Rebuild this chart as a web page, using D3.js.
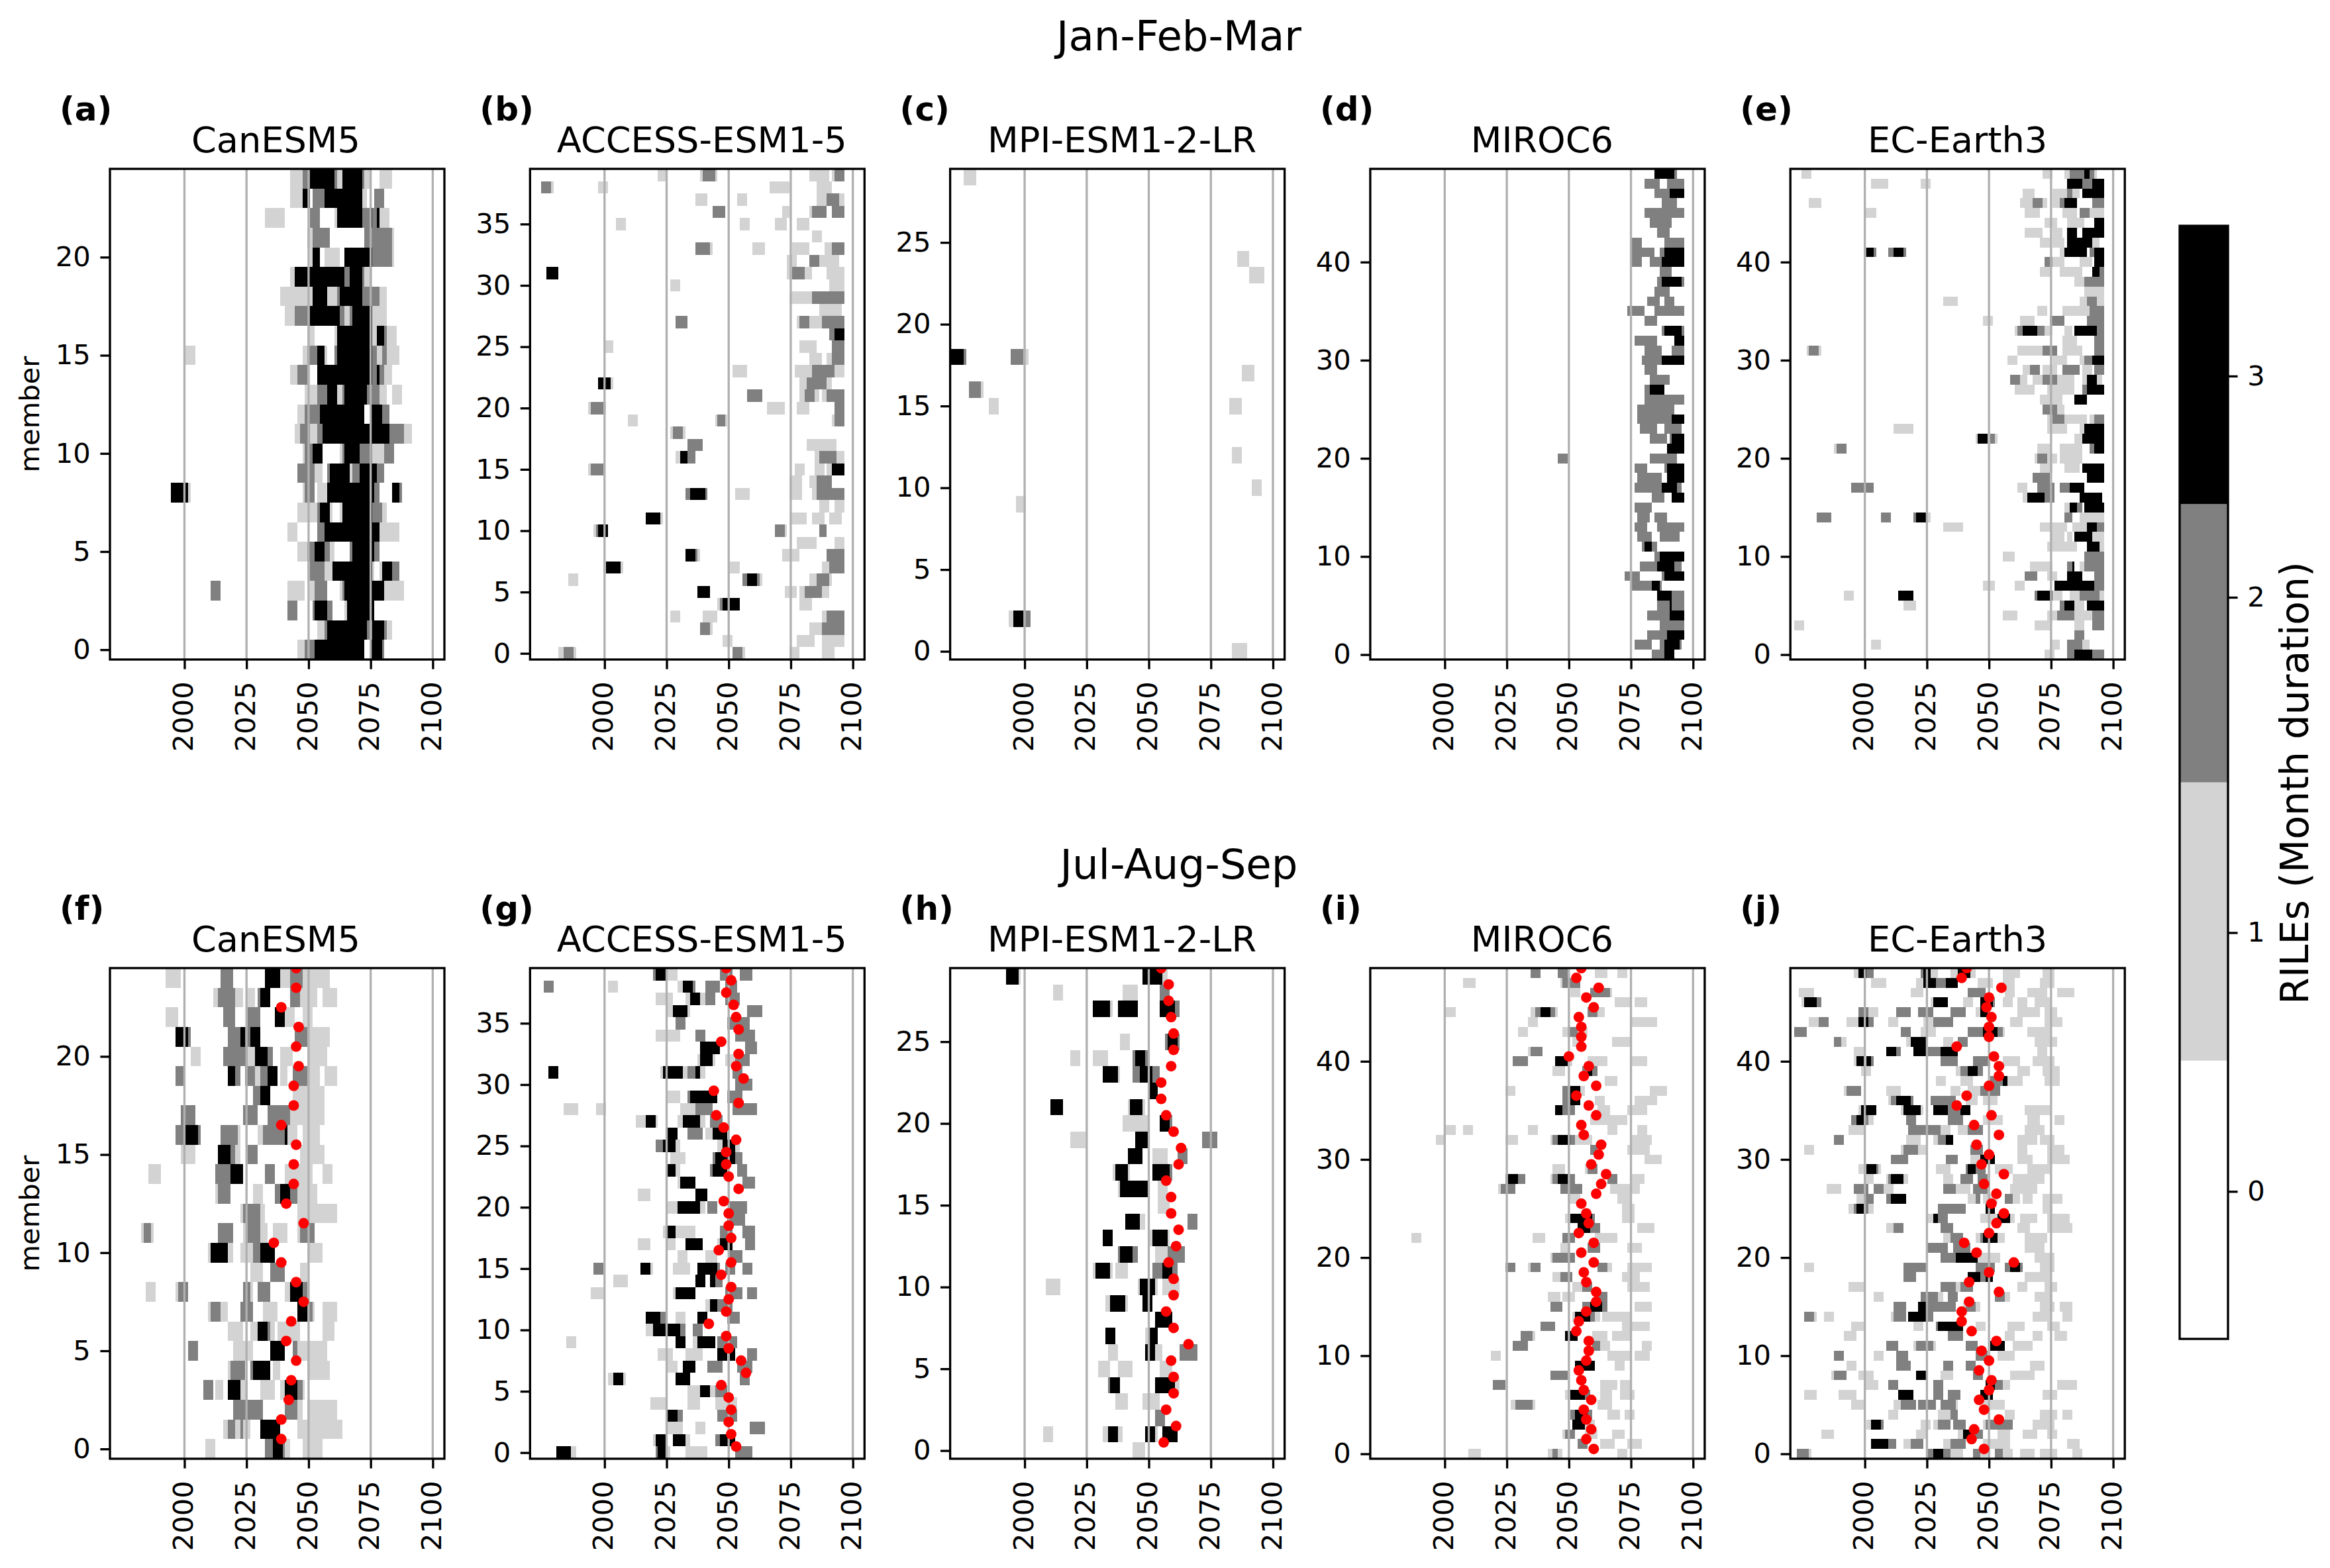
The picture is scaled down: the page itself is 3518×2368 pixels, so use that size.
<!DOCTYPE html>
<html>
<head>
<meta charset="utf-8">
<script src="https://cdn.jsdelivr.net/npm/d3@7"></script>
<style>
body { margin: 0; background: #fff; }
text { font-family: "DejaVu Sans", sans-serif; fill: #000; }
</style>
</head>
<body>
<div id="chart"></div>
<script>
// RILE cells per member. Rows go top to bottom (highest member first),
// each row is a flat list of runs: first year, last year, duration.
const runsA = [
[2043,2047,1,2048,2050,2,2051,2060,3,2061,2061,2,2062,2063,1,2064,2071,3,2072,2072,2,2073,2074,1,2079,2083,1],
[2043,2047,1,2048,2050,3,2052,2056,2,2057,2071,3,2072,2073,1,2077,2080,2],
[2033,2040,1,2051,2054,2,2061,2061,1,2062,2071,3,2072,2074,2,2075,2075,3,2076,2077,2,2078,2078,3,2079,2082,1],
[2050,2051,1,2052,2058,2,2073,2083,2,2084,2084,1],
[2051,2051,1,2052,2054,3,2057,2062,1,2065,2075,3,2076,2083,2,2084,2084,1],
[2043,2044,1,2045,2064,3,2065,2066,2,2067,2071,3,2072,2072,2,2073,2075,1],
[2039,2051,1,2052,2057,3,2058,2061,1,2062,2062,2,2063,2071,3,2072,2078,2,2079,2081,1],
[2041,2044,1,2045,2050,2,2051,2062,3,2063,2064,2,2065,2066,1,2067,2067,2,2068,2075,3,2076,2081,1],
[2050,2052,1,2061,2061,1,2062,2075,3,2076,2077,1,2078,2080,3,2081,2081,2,2082,2085,1],
[2000,2004,1,2048,2049,1,2050,2053,2,2054,2056,3,2057,2057,1,2061,2061,2,2062,2075,3,2076,2077,2,2078,2079,1,2080,2081,2,2082,2086,1],
[2043,2045,1,2046,2049,2,2050,2050,1,2054,2075,3,2076,2077,2,2078,2078,3,2079,2080,2,2081,2083,1],
[2049,2052,1,2053,2053,1,2054,2057,2,2058,2061,3,2062,2063,1,2064,2064,2,2065,2073,3,2074,2078,2,2079,2081,1,2084,2087,1],
[2046,2048,1,2049,2054,2,2055,2072,3,2075,2079,3,2080,2082,2],
[2045,2046,1,2047,2050,2,2051,2053,1,2054,2055,2,2056,2082,3,2083,2088,2,2089,2091,1],
[2048,2048,1,2049,2051,2,2052,2055,3,2063,2063,1,2064,2064,2,2065,2070,3,2071,2075,2,2076,2080,1,2081,2084,2],
[2046,2052,2,2053,2055,1,2058,2058,2,2059,2066,3,2067,2067,1,2068,2070,2,2071,2077,3,2078,2080,2],
[1995,2001,3,2002,2002,1,2048,2048,1,2049,2052,2,2054,2057,1,2058,2075,3,2076,2076,3,2077,2078,2,2084,2086,3,2087,2087,2],
[2046,2053,1,2054,2054,2,2055,2058,3,2059,2059,1,2063,2063,1,2064,2075,3,2076,2079,2,2080,2081,1],
[2042,2045,1,2054,2056,2,2057,2078,3,2079,2086,1],
[2046,2049,1,2050,2052,2,2053,2056,3,2057,2058,2,2059,2060,1,2067,2067,2,2068,2076,3,2077,2078,2],
[2050,2050,1,2051,2056,2,2057,2059,1,2060,2075,3,2076,2076,1,2079,2079,1,2080,2083,3,2084,2086,2],
[2011,2014,2,2042,2048,1,2051,2052,1,2053,2057,2,2063,2063,1,2064,2064,2,2065,2080,3,2081,2088,1],
[2042,2045,2,2052,2052,2,2053,2057,3,2058,2059,2,2065,2065,1,2066,2076,3],
[2054,2056,1,2057,2057,2,2058,2073,3,2074,2075,2,2076,2080,3,2081,2081,2,2082,2083,1],
[2046,2048,1,2049,2052,2,2053,2072,3,2075,2079,3,2080,2080,2]
];
const runsB = [
[2022,2025,1,2039,2039,1,2040,2044,2,2045,2045,1,2083,2090,1,2092,2092,1,2093,2096,2],
[1975,1978,2,1979,1979,1,1998,2001,1,2067,2074,1,2086,2091,1],
[2037,2041,1,2054,2057,1,2086,2089,1,2090,2094,2,2095,2096,1],
[2044,2048,2,2072,2074,1,2083,2083,1,2084,2089,2,2092,2096,2],
[2005,2008,1,2055,2058,1,2069,2073,1,2078,2082,1],
[2084,2087,1],
[2037,2042,2,2043,2043,1,2060,2064,1,2076,2082,1,2089,2091,1,2092,2096,2],
[2074,2077,1,2083,2086,2,2087,2094,1],
[1977,1981,3,2074,2075,1,2076,2080,2,2081,2083,1,2090,2096,1],
[2027,2030,1,2091,2096,1],
[2075,2083,1,2084,2096,2],
[2087,2095,1],
[2029,2033,2,2078,2078,1,2079,2082,2,2083,2087,1,2088,2096,2],
[2091,2092,2,2093,2096,3],
[2000,2003,1,2079,2085,1,2092,2096,2],
[2083,2087,1,2090,2091,1,2092,2096,2],
[2052,2057,1,2077,2083,1,2084,2092,2,2093,2096,1],
[1998,2002,3,2003,2003,1,2079,2081,1,2082,2089,2,2090,2091,1],
[2058,2063,2,2079,2080,1,2081,2084,2,2085,2086,1,2088,2089,1,2090,2096,2],
[1994,1994,1,1995,1999,2,2000,2000,1,2066,2072,1,2078,2082,1,2093,2096,2],
[2010,2013,1,2045,2045,1,2046,2048,2,2049,2049,1,2092,2092,1,2093,2096,2],
[2027,2027,1,2028,2031,2,2032,2032,1],
[2034,2039,2,2082,2093,1],
[2029,2030,1,2031,2031,2,2031,2033,3,2034,2036,2,2085,2086,1,2087,2093,2,2094,2096,1],
[1994,1994,1,1995,1999,2,2077,2080,1,2085,2088,1,2090,2091,1,2092,2096,3],
[2075,2079,1,2083,2085,1,2086,2091,2],
[2033,2034,2,2035,2040,3,2041,2041,2,2053,2058,1,2075,2079,1,2084,2085,1,2086,2096,2],
[2087,2090,1,2093,2096,1],
[2017,2022,3,2023,2023,1,2075,2081,1,2084,2088,1,2091,2095,1],
[1996,1996,1,1997,1997,2,1998,2001,3,2069,2072,2,2073,2073,1,2087,2089,2],
[2078,2085,1,2093,2096,1],
[2033,2036,3,2037,2037,2,2038,2038,1,2072,2078,1,2090,2096,2],
[2000,2000,1,2001,2006,3,2007,2007,1,2051,2054,1,2088,2090,1,2091,2096,2],
[1986,1989,1,2056,2057,2,2058,2061,3,2062,2062,2,2063,2063,1,2083,2085,1,2086,2090,2,2091,2091,1],
[2038,2042,3,2073,2077,1,2079,2080,1,2081,2087,2,2088,2090,1],
[2046,2046,1,2047,2047,2,2048,2054,3,2079,2083,1],
[2027,2030,1,2040,2045,1,2088,2089,1,2090,2096,2],
[2039,2042,2,2043,2043,1,2083,2087,1,2088,2096,2],
[2048,2051,1,2078,2084,1,2088,2096,1],
[1982,1983,1,1984,1987,2,1988,1988,1,2052,2055,2,2056,2056,1,2075,2078,1,2088,2092,1]
];
const runsC = [
[1976,1980,1],[],[],[],[],
[2086,2090,1],
[2091,2096,1],
[],[],[],[],
[1971,1975,3,1976,1976,2,1995,1999,2,2000,2001,1],
[2088,2092,1],
[1978,1982,2,1983,1983,1],
[1986,1989,1,2083,2087,1],
[],[],
[2084,2087,1],
[],
[2092,2095,1],
[1997,2000,1],
[],[],[],[],[],[],
[1994,1995,1,1996,1999,3,2000,2002,2],
[],
[2084,2089,1]
];
const runsD = [
[2085,2092,3,2093,2093,2],
[2081,2086,2,2090,2096,2],
[2085,2090,2,2091,2096,3],
[2088,2093,2],
[2081,2096,2],
[2083,2091,2],
[2086,2090,2],
[2075,2079,2,2089,2096,2],
[2075,2084,2,2087,2088,2,2089,2096,3],
[2075,2079,2,2083,2087,2,2088,2096,3],
[2087,2091,2],
[2086,2087,2,2088,2095,3,2096,2096,2],
[2085,2090,2],
[2082,2086,2,2089,2092,2],
[2074,2080,2,2085,2096,2],
[2081,2085,2],
[2088,2088,2,2089,2095,3,2096,2096,2],
[2077,2085,2,2093,2096,3],
[2081,2087,2,2092,2096,2],
[2080,2087,2,2088,2096,3],
[2081,2085,2],
[2083,2090,2],
[2081,2082,2,2083,2088,3],
[2081,2096,2],
[2078,2092,2],
[2078,2091,2,2092,2096,3],
[2079,2085,2,2089,2095,2],
[2083,2089,2,2091,2091,2,2092,2096,3],
[2090,2096,3],
[2046,2049,2,2083,2093,2],
[2077,2081,2,2089,2089,2,2090,2096,3],
[2078,2087,2,2090,2096,3],
[2077,2087,2,2088,2093,3,2094,2095,2],
[2084,2088,2,2092,2096,3],
[2077,2083,2],
[2078,2082,2,2085,2089,2],
[2077,2081,2,2086,2096,2],
[2078,2083,2,2087,2094,2],
[2080,2080,2,2081,2083,3,2084,2085,2],
[2085,2086,2,2087,2096,3],
[2079,2085,2,2086,2092,3,2093,2095,2],
[2073,2078,2,2088,2088,2,2089,2096,3],
[2075,2083,2,2084,2086,3,2087,2087,2],
[2086,2091,3,2092,2096,2],
[2086,2090,2,2091,2091,3,2092,2096,2],
[2082,2090,2,2091,2096,3],
[2087,2096,2],
[2082,2089,2,2090,2096,3],
[2077,2083,2,2087,2088,2,2089,2094,3,2095,2095,2],
[2084,2088,2,2089,2092,3]
];
const runsE = [
[1975,1978,1,2072,2075,1,2081,2082,1,2083,2088,2,2089,2090,3,2091,2092,2,2093,2093,1],
[2003,2009,1,2023,2026,1,2082,2087,3,2088,2091,2,2092,2096,3],
[2064,2068,1,2076,2081,1,2082,2083,2,2084,2086,1,2088,2096,3],
[1978,1982,1,2063,2067,1,2068,2071,2,2072,2073,1,2076,2078,1,2079,2080,2,2081,2085,3,2092,2096,2],
[2000,2004,1,2065,2070,1,2080,2085,1,2087,2090,2,2091,2096,1],
[2073,2077,1,2082,2088,1,2093,2096,3],
[2065,2071,1,2076,2079,1,2082,2085,3,2088,2096,3],
[2071,2074,1,2076,2080,1,2082,2091,3,2092,2094,1],
[2000,2000,2,2001,2003,3,2004,2004,2,2010,2011,2,2012,2015,3,2016,2016,2,2079,2080,1,2081,2089,3,2091,2092,2,2093,2096,3],
[2073,2075,2,2076,2080,1,2087,2091,1,2093,2096,3],
[2071,2074,1,2079,2087,1,2092,2094,3,2095,2096,2],
[2085,2088,1,2089,2096,2],
[2089,2096,1],
[2032,2037,1,2087,2089,1,2090,2093,2,2094,2096,1],
[2070,2073,1,2080,2090,1,2091,2096,2],
[2048,2051,1,2063,2068,1,2075,2080,2,2090,2096,2],
[2061,2061,1,2062,2063,2,2064,2069,3,2070,2072,2,2073,2075,1,2081,2083,1,2085,2093,3,2094,2096,2],
[2080,2085,1,2093,2096,2],
[1977,1977,1,1978,1981,2,1982,1982,1,2062,2071,1,2072,2077,2,2080,2083,1,2084,2087,1,2093,2096,2],
[2058,2061,1,2076,2081,1,2087,2088,1,2089,2091,2,2092,2096,3],
[2064,2066,1,2067,2070,2,2072,2075,1,2076,2077,1,2080,2086,2,2088,2091,1,2093,2096,2],
[2059,2062,2,2063,2065,1,2068,2071,1,2072,2077,2,2078,2084,1,2088,2089,1,2090,2093,3,2094,2095,1],
[2061,2068,1,2074,2084,1,2088,2089,2,2090,2096,3],
[2071,2079,1,2085,2089,3],
[2072,2077,2,2078,2080,1],
[2074,2075,1,2076,2080,2,2081,2089,1,2091,2092,1,2093,2096,2],
[2012,2019,1,2074,2081,1,2087,2088,1,2089,2096,3],
[2045,2045,1,2046,2049,3,2051,2052,2,2053,2053,1,2085,2087,1,2088,2096,3],
[1988,1988,1,1989,1992,2,2070,2074,1,2079,2087,1,2091,2092,2,2093,2096,3],
[2069,2069,1,2070,2073,2,2074,2077,1,2079,2087,1],
[2071,2075,1,2081,2086,1,2088,2096,3],
[2068,2074,2,2090,2096,3],
[1995,2003,2,2062,2065,1,2070,2076,2,2079,2082,2,2083,2088,3],
[2064,2065,1,2066,2072,3,2073,2076,2,2087,2095,3],
[2081,2082,1,2083,2085,3,2086,2087,2,2089,2096,3],
[1981,1986,2,2007,2010,2,2020,2020,2,2021,2024,3,2025,2026,1,2081,2083,2,2087,2096,1],
[2032,2039,1,2071,2081,1,2084,2089,1,2090,2093,3,2094,2096,2],
[2075,2080,1,2082,2083,1,2085,2091,3,2092,2096,1],
[2074,2085,1,2090,2094,3,2095,2096,1],
[2056,2060,1,2089,2096,2],
[2067,2075,1,2082,2083,2,2084,2084,3,2087,2088,1,2089,2096,2],
[2065,2069,2,2074,2077,1,2082,2087,3,2093,2096,2],
[2048,2052,1,2061,2064,1,2077,2092,3,2093,2096,2],
[1992,1995,1,2014,2019,3,2069,2069,2,2070,2075,3,2076,2079,1,2083,2086,1,2087,2094,2,2095,2096,1],
[2016,2020,1,2079,2080,2,2081,2084,3,2085,2088,1,2090,2096,3],
[2056,2061,1,2074,2077,1,2078,2084,2,2085,2088,1,2089,2091,1,2092,2096,2],
[1972,1975,1,2069,2074,1,2085,2088,1,2092,2096,2],
[2085,2088,2],
[2003,2006,1,2075,2078,1,2082,2087,2,2088,2090,1],
[2073,2076,1,2082,2084,2,2085,2091,3,2092,2096,2]
];
const runsF = [
[1993,1998,1,2015,2019,2,2033,2038,3,2039,2042,1,2043,2047,2,2048,2058,1],
[2012,2013,1,2014,2020,2,2021,2023,1,2026,2028,1,2030,2030,2,2031,2034,3,2043,2046,2,2047,2053,1,2056,2061,1],
[1993,1997,1,2016,2020,2,2026,2030,2,2037,2040,3,2041,2044,1,2048,2051,1],
[1997,2001,3,2002,2002,2,2018,2022,2,2023,2024,3,2025,2026,2,2027,2030,3,2045,2049,2,2050,2058,1],
[2003,2006,1,2016,2025,2,2026,2028,1,2029,2033,3,2034,2035,2,2039,2043,1,2050,2057,1],
[1997,2000,2,2018,2020,3,2021,2022,2,2025,2028,2,2029,2030,1,2031,2033,2,2034,2037,3,2039,2041,1,2044,2049,2,2050,2054,1,2057,2061,1],
[2028,2030,2,2031,2034,3,2044,2056,1],
[1999,2004,2,2024,2029,2,2034,2042,2,2043,2056,1],
[1997,2000,2,2001,2005,3,2006,2006,2,2015,2021,2,2022,2022,1,2030,2031,1,2032,2040,2,2041,2041,3,2042,2045,1,2048,2054,1],
[1999,2004,1,2014,2018,3,2019,2020,2,2021,2022,1,2026,2029,2,2047,2056,1],
[1986,1990,1,2013,2018,2,2019,2023,3,2033,2036,2,2041,2046,1,2047,2051,1,2056,2059,1],
[2013,2013,1,2014,2018,2,2028,2031,1,2037,2038,2,2039,2042,3,2043,2045,2,2046,2053,1],
[2023,2023,1,2024,2030,2,2031,2032,1,2046,2061,1],
[1983,1983,1,1984,1986,2,1987,1987,1,2014,2019,2,2024,2025,1,2026,2030,2,2031,2033,1,2036,2041,1,2046,2046,1,2047,2052,2],
[2010,2010,1,2011,2017,3,2018,2019,1,2023,2027,1,2028,2030,2,2031,2036,3,2050,2055,1],
[2027,2031,1,2035,2040,2,2047,2049,1],
[1985,1988,1,1997,1997,1,1998,2001,2,2024,2026,2,2027,2027,1,2030,2034,2,2041,2042,1,2043,2047,3,2048,2049,2],
[2010,2010,1,2011,2014,2,2015,2017,1,2023,2027,2,2032,2037,1,2046,2049,3,2050,2051,2,2052,2052,1,2056,2061,1],
[2018,2023,1,2027,2029,1,2030,2033,3,2034,2034,2,2035,2036,1,2038,2046,1,2056,2060,1],
[2002,2005,2,2020,2027,1,2035,2040,3,2044,2045,2,2046,2057,1],
[2018,2018,1,2019,2024,2,2027,2027,2,2028,2034,3,2036,2038,1,2050,2058,1],
[2008,2011,2,2013,2015,1,2018,2022,3,2023,2025,1,2031,2036,1,2039,2040,1,2041,2045,3,2046,2047,2,2048,2048,1],
[2020,2031,2,2041,2045,2,2046,2047,1,2050,2061,1],
[2016,2017,1,2018,2020,2,2021,2022,1,2023,2023,2,2024,2026,1,2031,2038,3,2046,2054,1,2055,2063,1],
[2009,2012,1,2033,2035,2,2036,2039,3,2040,2040,2,2041,2042,1,2048,2055,1]
];
const runsG = [
[2020,2020,2,2021,2025,3,2026,2029,1,2047,2051,2,2055,2059,2],
[1976,1979,2,2002,2005,1,2030,2031,1,2032,2035,3,2036,2036,2,2041,2046,2,2049,2053,2],
[2021,2027,1,2033,2034,1,2035,2038,3,2039,2040,1,2041,2041,3,2041,2044,2,2049,2054,2],
[2026,2027,1,2028,2033,3,2034,2034,1,2058,2063,2],
[2029,2032,2,2050,2058,2],
[2021,2030,1,2037,2040,2,2053,2060,2],
[2039,2046,3,2057,2061,2],
[2038,2038,1,2039,2043,3,2044,2044,1,2049,2052,1,2053,2058,2],
[1978,1981,3,2023,2023,1,2024,2031,3,2032,2033,1,2034,2036,2,2037,2038,3,2039,2040,1,2052,2055,2],
[2053,2059,2],
[2026,2030,1,2034,2034,2,2035,2045,3,2050,2055,2],
[1984,1989,1,1997,2000,1,2031,2036,1,2037,2043,2,2052,2061,2],
[2013,2016,1,2017,2020,3,2021,2021,1,2030,2031,1,2032,2038,3,2039,2040,1,2043,2047,2],
[2025,2025,1,2026,2029,3,2034,2039,2,2041,2043,1,2044,2049,3],
[2021,2023,2,2024,2028,3,2029,2030,1,2046,2047,1,2048,2052,3,2053,2054,1],
[2027,2032,1,2044,2044,2,2045,2052,3,2053,2055,2],
[2025,2025,2,2026,2028,3,2029,2030,1,2043,2043,2,2044,2049,3,2054,2057,2],
[2030,2030,1,2031,2036,3,2056,2060,2],
[2014,2018,1,2037,2041,3],
[2026,2029,1,2030,2038,3,2039,2040,1,2042,2045,2,2051,2057,2],
[2050,2056,2],
[2024,2025,1,2026,2028,3,2029,2036,1,2047,2051,2,2056,2060,2],
[2014,2018,1,2025,2028,1,2033,2039,3,2046,2046,1,2047,2051,3,2057,2060,2],
[2030,2033,1,2041,2045,1,2051,2055,2],
[1996,1999,2,2015,2018,3,2019,2019,1,2028,2034,1,2038,2045,3,2046,2046,2,2049,2052,2,2056,2059,2],
[2004,2009,1,2037,2040,3,2043,2044,3,2045,2047,2],
[1995,1999,1,2028,2028,1,2029,2036,3,2049,2055,2,2058,2061,2],
[2041,2042,1,2043,2045,3,2046,2051,2],
[2017,2022,3,2023,2024,2,2029,2032,1,2038,2041,3,2050,2054,2],
[2017,2019,1,2020,2024,3,2026,2030,3,2031,2032,2,2036,2039,2],
[1985,1988,1,2029,2032,3,2036,2037,1,2038,2044,3,2046,2053,2],
[2022,2027,1,2033,2039,1,2046,2049,3,2051,2052,3,2058,2061,2],
[2026,2029,1,2032,2036,3,2042,2047,2,2054,2059,2],
[2002,2003,1,2004,2007,3,2008,2008,1,2029,2034,3,2055,2058,2],
[2034,2038,1,2039,2042,3,2043,2044,1,2045,2049,2],
[2019,2025,1,2034,2038,1,2045,2053,1],
[2025,2029,3,2030,2031,2,2046,2053,2],
[2026,2031,1,2037,2040,1,2059,2064,2],
[2020,2020,1,2021,2024,3,2028,2032,3,2033,2034,1,2045,2046,2,2047,2052,3],
[1981,1986,3,1987,1988,1,2021,2021,2,2022,2024,3,2025,2026,1,2033,2041,1,2053,2059,2]
];
const runsH = [
[1993,1997,3,1998,1998,1,2048,2055,3,2056,2057,1],
[2012,2015,1,2040,2045,1,2055,2058,2],
[2028,2034,3,2035,2035,1,2038,2045,3,2055,2060,3,2061,2062,2],
[],
[2039,2042,1,2057,2057,2,2058,2061,3,2062,2062,2],
[2019,2022,1,2028,2033,1,2044,2044,2,2045,2048,3,2049,2050,2],
[2032,2037,3,2038,2038,1,2044,2046,2,2047,2051,3,2052,2054,2],
[2051,2053,3],
[2011,2015,3,2042,2042,1,2043,2047,3,2048,2048,1],
[2040,2049,1,2055,2058,3,2059,2059,2],
[2019,2024,1,2045,2049,3,2072,2077,2],
[2042,2047,3,2052,2057,1,2062,2065,2],
[2036,2036,1,2037,2041,3,2042,2042,1,2052,2058,3,2059,2059,2],
[2038,2038,1,2039,2049,3,2054,2057,1],
[2054,2058,1],
[2041,2046,3,2047,2048,1,2066,2069,2],
[2032,2035,3,2051,2051,1,2052,2057,3,2058,2058,1],
[2038,2038,2,2039,2043,3,2044,2045,2,2053,2057,1,2058,2064,2],
[2028,2028,1,2029,2034,3,2035,2035,1,2037,2041,1,2052,2055,2,2056,2059,3,2060,2061,2],
[2009,2014,1,2046,2046,1,2047,2052,3,2053,2053,1,2056,2062,1],
[2033,2034,1,2035,2040,3,2041,2041,1,2048,2051,3],
[2053,2059,3],
[2033,2036,3,2049,2050,1,2051,2053,3],
[2034,2037,1,2049,2052,3,2053,2055,1,2063,2069,2],
[2030,2034,1,2038,2043,1,2055,2059,1],
[2034,2034,2,2035,2038,3,2053,2060,3,2061,2062,1],
[2037,2041,1,2048,2054,1],
[2053,2056,2],
[2008,2011,1,2032,2033,1,2034,2037,3,2038,2039,1,2049,2052,3,2053,2053,1,2056,2061,3],
[2044,2048,1]
];
const runsI = [
[2035,2038,2,2046,2049,2,2061,2065,1,2070,2073,1],
[2008,2012,1,2047,2047,1,2048,2054,2],
[2051,2054,1,2059,2066,2,2067,2067,1],
[2069,2074,1,2077,2081,1],
[2001,2004,1,2035,2036,1,2037,2038,2,2039,2042,3,2043,2044,2,2045,2045,1,2058,2061,2,2062,2064,1],
[2034,2037,1,2075,2085,1],
[2030,2033,1,2048,2049,1,2050,2053,2,2054,2057,1],
[2052,2055,1,2068,2074,1],
[2034,2034,1,2035,2039,2],
[2028,2033,2,2045,2049,3,2050,2051,1,2058,2065,1,2076,2081,1],
[2044,2048,1,2056,2057,2,2058,2059,3,2060,2061,2],
[2065,2069,1],
[2025,2028,1,2048,2050,2,2051,2054,3,2055,2056,1,2083,2089,1],
[2048,2050,2,2051,2054,3,2061,2064,1,2077,2085,1],
[2045,2047,3,2048,2052,2,2062,2066,1,2074,2081,1],
[2059,2064,1,2065,2073,1],
[2001,2004,1,2008,2011,1,2034,2037,1,2066,2069,1,2078,2081,1],
[1997,2000,1,2025,2029,1,2043,2043,1,2044,2045,2,2046,2050,3,2051,2052,2,2053,2059,1,2075,2083,1],
[2059,2061,2,2074,2082,1],
[2081,2087,1],
[2044,2048,1,2057,2057,1,2058,2061,2],
[2025,2025,2,2026,2029,3,2030,2032,2,2043,2043,1,2044,2045,2,2046,2049,3,2050,2052,2,2066,2069,2,2075,2080,1],
[2022,2022,1,2023,2028,2,2047,2055,2,2067,2078,1],
[2050,2054,1,2070,2074,1],
[2072,2076,1],
[2049,2050,1,2051,2059,3,2060,2060,2,2072,2076,1],
[2054,2058,3,2059,2062,2,2078,2084,1],
[1987,1990,1,2036,2040,1,2048,2052,2,2061,2069,1],
[2047,2050,1,2058,2062,2,2074,2079,1],
[2043,2043,1,2044,2052,2],
[2025,2028,2,2034,2034,1,2035,2038,2,2062,2065,2,2066,2067,1,2074,2083,1],
[2044,2046,1,2047,2051,2,2072,2078,1],
[2052,2055,1,2056,2059,2,2074,2082,1],
[2042,2046,1,2048,2052,1,2062,2065,2],
[2043,2047,2,2056,2058,2,2059,2063,3,2064,2065,2,2077,2083,1],
[2052,2052,1,2053,2058,3,2059,2060,2,2061,2062,1,2064,2074,1],
[2039,2044,2,2072,2082,1],
[2031,2035,2,2036,2036,1,2049,2053,3,2060,2065,1,2068,2074,1],
[2028,2033,2,2060,2062,2,2063,2066,1,2080,2083,1],
[2019,2022,1,2066,2074,1,2077,2082,1],
[2053,2060,3,2069,2072,1],
[2043,2049,2],
[2020,2024,2,2063,2069,1,2071,2074,1],
[2049,2050,1,2051,2056,3,2057,2058,2,2063,2067,1,2071,2076,1],
[2027,2028,1,2029,2035,2,2036,2036,1,2062,2067,1],
[2051,2052,2,2053,2057,3,2058,2059,2,2066,2070,1,2073,2076,1],
[2052,2056,3,2057,2060,1],
[2048,2048,1,2049,2052,2,2057,2061,1,2068,2072,1],
[2054,2057,2,2063,2068,1,2074,2079,1],
[2010,2014,1,2042,2043,1,2044,2045,2,2046,2047,1,2070,2073,1]
];
const runsJ = [
[1996,1997,1,1998,2000,3,2001,2003,2,2023,2023,2,2024,2026,3,2027,2029,1,2035,2037,1,2038,2042,3,2043,2044,1,2056,2062,1,2072,2076,1],
[2003,2008,1,2021,2023,1,2024,2028,3,2029,2032,2,2033,2037,3,2046,2051,1,2056,2060,1,2071,2076,1],
[1974,1979,1,2019,2023,1,2042,2048,2,2057,2060,1,2066,2073,1,2078,2084,1],
[1975,1975,1,1976,1980,3,1981,1982,2,2027,2027,1,2028,2033,3,2040,2043,1,2047,2051,3,2052,2052,2,2056,2059,1,2062,2065,1,2069,2074,1],
[1998,2001,2,2002,2005,1,2013,2018,2,2022,2027,2,2035,2040,2,2045,2046,1,2047,2050,3,2062,2070,1,2073,2077,1],
[1978,1981,1,1982,1985,2,1993,1997,1,1998,2001,3,2002,2003,2,2010,2013,1,2024,2027,1,2028,2035,2,2059,2063,1,2073,2079,1],
[1972,1976,2,2015,2018,2,2023,2028,1,2042,2047,2,2048,2053,3,2054,2055,2,2056,2056,1,2066,2074,1],
[1988,1990,2,1991,1992,1,2017,2018,1,2019,2024,3,2032,2035,1,2038,2041,2,2069,2077,1],
[1996,1999,1,2009,2012,3,2013,2014,2,2020,2024,3,2025,2030,2,2031,2037,3,2070,2073,1],
[1996,1996,1,1997,1999,3,2001,2002,3,2003,2003,2,2031,2037,2,2044,2050,2,2056,2062,1,2068,2076,1],
[1999,2002,1,2037,2038,1,2039,2041,2,2042,2045,3,2046,2047,2,2062,2066,1,2072,2078,1],
[2029,2032,1,2039,2043,1,2051,2055,2,2056,2057,3,2058,2063,1,2073,2078,1],
[1992,1992,1,1993,1998,2,2009,2014,1,2035,2038,1,2042,2046,1,2047,2054,2],
[2010,2010,1,2011,2012,2,2013,2018,3,2019,2019,2,2027,2036,2,2041,2045,1,2048,2053,1],
[1998,1998,1,1999,2004,3,2015,2015,1,2016,2022,3,2023,2023,1,2028,2033,3,2034,2038,2,2039,2042,3,2065,2074,1],
[1995,1996,2,1997,1999,3,2000,2001,2,2002,2003,1,2017,2020,2,2034,2039,2,2048,2055,1,2066,2070,1,2077,2080,1],
[1994,1999,1,2018,2030,2,2031,2034,1,2038,2041,1,2042,2047,2,2065,2072,1],
[1988,1991,2,2017,2022,1,2028,2029,1,2030,2032,2,2033,2035,3,2062,2069,1,2071,2076,1],
[1976,1979,1,2015,2015,1,2016,2021,2,2022,2024,1,2043,2047,2,2062,2065,1,2074,2080,1],
[2011,2017,2,2033,2037,2,2043,2046,1,2047,2052,3,2062,2067,1,2074,2082,1],
[1998,2000,1,2001,2004,3,2005,2005,2,2006,2006,1,2029,2034,1,2041,2041,2,2042,2044,3,2045,2048,2,2053,2059,1,2066,2074,1],
[2000,2003,1,2009,2009,1,2010,2010,2,2011,2015,3,2016,2017,1,2032,2035,1,2039,2043,2,2046,2049,2,2060,2072,1],
[1985,1990,1,1996,2001,2,2004,2007,2,2008,2011,1,2032,2036,2,2037,2042,1,2044,2049,2,2059,2069,1],
[1997,1999,1,2000,2003,2,2009,2010,2,2011,2016,3,2042,2044,1,2045,2046,2,2048,2053,1,2057,2059,2,2060,2062,1,2064,2067,1,2072,2079,1],
[1994,1995,1,1996,1996,2,1997,1999,3,2000,2001,2,2002,2003,1,2030,2040,2,2049,2052,3,2072,2075,1],
[2025,2027,1,2028,2029,3,2030,2033,2,2047,2053,1,2054,2058,3,2059,2060,1,2063,2069,1,2074,2082,1],
[2009,2011,1,2012,2015,2,2031,2035,2,2062,2066,1,2074,2083,1],
[2032,2034,1,2035,2039,2,2045,2046,1,2047,2047,2,2048,2053,3,2054,2056,1,2065,2073,1],
[2025,2033,2,2036,2042,2,2065,2072,1],
[2031,2036,2,2037,2045,3,2046,2054,1,2069,2076,1],
[1976,1979,1,2016,2024,2,2045,2052,2,2057,2058,2,2059,2062,3,2063,2063,2,2071,2076,1],
[2016,2020,2,2042,2046,3,2047,2048,2,2049,2051,3,2065,2074,1],
[1994,1999,1,2031,2036,2,2037,2038,1,2039,2043,2,2062,2065,1,2073,2077,1],
[2004,2007,1,2023,2029,2,2030,2031,1,2034,2037,2,2053,2056,2,2057,2058,1,2069,2075,1],
[2012,2016,2,2022,2024,3,2025,2036,2,2040,2040,1,2041,2044,2,2045,2046,1,2071,2076,1,2079,2083,1],
[1976,1979,2,1980,1980,1,1984,1987,1,2011,2011,1,2012,2015,2,2016,2016,2,2018,2024,3,2025,2027,2,2068,2074,1,2080,2083,1],
[1995,1999,1,2020,2023,1,2029,2029,2,2030,2039,3,2045,2048,1,2058,2064,1,2074,2078,1],
[1992,1996,1,2034,2039,2,2057,2060,1,2068,2071,1,2077,2081,1],
[2009,2013,2,2020,2020,1,2021,2027,2,2028,2028,1,2041,2045,2,2051,2056,3,2060,2067,1],
[1988,1991,2,2004,2007,1,2013,2017,2,2045,2049,2,2054,2060,1],
[1993,1996,1,2013,2018,2,2032,2035,2,2041,2044,2,2067,2072,1],
[1987,1987,1,1988,1992,2,1998,2003,1,2021,2024,3,2031,2035,1,2044,2047,2,2059,2068,1],
[2000,2005,1,2010,2013,2,2028,2031,2,2049,2052,3,2053,2055,2,2056,2058,1,2078,2085,1],
[1976,1980,1,1990,1996,1,2014,2019,3,2028,2031,2,2034,2038,2,2047,2051,3,2072,2077,1],
[1995,1999,1,2012,2014,1,2015,2020,2,2022,2028,2,2031,2036,2,2037,2037,1,2048,2056,1],
[2010,2013,1,2030,2034,1,2035,2037,2,2057,2060,1,2071,2077,1,2080,2083,1],
[2001,2002,1,2003,2006,3,2007,2007,2,2023,2026,1,2028,2029,1,2030,2034,2,2036,2040,2,2048,2048,1,2049,2059,2,2068,2076,1],
[1983,1987,1,2021,2024,1,2038,2039,1,2040,2043,3,2044,2047,2,2054,2058,1,2064,2069,1,2074,2077,1],
[2003,2009,3,2010,2012,2,2016,2018,1,2019,2023,2,2032,2034,1,2035,2040,2,2048,2058,1,2082,2086,1],
[1973,1977,2,1978,1978,1,2025,2027,2,2028,2031,3,2032,2034,2,2035,2039,1,2044,2046,2,2047,2050,1,2053,2055,2,2056,2059,1,2063,2068,1,2071,2077,1,2084,2087,1]
];

// Event-year markers, one per member, lowest member first (drawn at member + 0.5)
const dotsF = [2039,2039,2042,2043,2045,2041,2043,2048,2045,2039,2036,2048,2041,2044,2044,2045,2039,2044,2044,2046,2045,2046,2039,2045,2045];
const dotsG = [2053,2051,2050,2051,2050,2047,2057,2055,2050,2049,2042,2049,2050,2051,2047,2051,2046,2051,2050,2050,2048,2054,2050,2049,2049,2053,2048,2045,2054,2044,2056,2053,2054,2047,2054,2053,2052,2049,2051,2049];
const dotsH = [2056,2061,2057,2060,2060,2059,2066,2060,2057,2060,2060,2058,2061,2062,2059,2059,2057,2062,2063,2060,2057,2055,2055,2059,2060,2060,2059,2058,2058,2055];
const dotsI = [2060,2057,2059,2057,2056,2059,2056,2055,2054,2057,2058,2058,2053,2054,2057,2061,2061,2057,2056,2060,2055,2060,2054,2058,2057,2055,2061,2063,2065,2059,2062,2063,2056,2055,2061,2058,2053,2061,2056,2058,2050,2055,2055,2055,2054,2060,2057,2062,2053,2055];
const dotsJ = [2048,2043,2044,2054,2048,2046,2050,2051,2046,2050,2047,2053,2043,2039,2039,2042,2054,2042,2050,2060,2045,2040,2050,2053,2056,2051,2053,2048,2056,2047,2050,2045,2054,2044,2051,2037,2041,2050,2054,2054,2052,2037,2050,2050,2051,2049,2050,2055,2039,2041];

const panelLetters = ['(a)', '(b)', '(c)', '(d)', '(e)', '(f)', '(g)', '(h)', '(i)', '(j)'];
const modelNames = ['CanESM5', 'ACCESS-ESM1-5', 'MPI-ESM1-2-LR', 'MIROC6', 'EC-Earth3'];
const memberCounts = [25, 40, 30, 50, 50];
const memberTicks = [
    [0, 5, 10, 15, 20],
    [0, 5, 10, 15, 20, 25, 30, 35],
    [0, 5, 10, 15, 20, 25],
    [0, 10, 20, 30, 40],
    [0, 10, 20, 30, 40]
];
const yearTicks = [2000, 2025, 2050, 2075, 2100];
const yearRange = [1970, 2104.7];
const seasonTitles = ['Jan-Feb-Mar', 'Jul-Aug-Sep'];
const durationLevels = [0, 1, 2, 3];
const durationColors = ['#ffffff', '#d3d3d3', '#808080', '#000000'];
// where the colorbar ticks sit on the bar, in duration units
const colorbarTicks = [0.03, 0.96, 2.165, 2.96];

const runs = [runsA, runsB, runsC, runsD, runsE, runsF, runsG, runsH, runsI, runsJ];
const dots = [null, null, null, null, null, dotsF, dotsG, dotsH, dotsI, dotsJ];

const width = 3518, height = 2368;
const pt = 300 / 72;
const lineW = 0.8 * pt;
const tickLen = 3.5 * pt;
const panelW = 505, panelStep = 634.3, firstLeft = 166;
const rowTops = [255, 1462], panelH = 741;
const titleShift = [-2, 7, 7, 7, 0];

const colorScale = d3.scaleOrdinal().domain(durationLevels).range(durationColors);

let svg = d3.select('#chart').append('svg')
    .attr('width', width)
    .attr('height', height)
    .attr('viewBox', '0 0 ' + width + ' ' + height)
    .style('display', 'block');

svg.append('rect').attr('width', width).attr('height', height).attr('fill', '#fff');

function style_axis(axis) {
    axis.selectAll('path, line').attr('stroke', '#000').attr('stroke-width', lineW);
    axis.selectAll('text').attr('font-size', 10 * pt).attr('font-family', '"DejaVu Sans"').attr('fill', '#000');
}

// flat rows -> list of cells for the data join
function make_cells(rows) {
    let cells = [];
    rows.forEach(function (row, i) {
        let member = rows.length - 1 - i;
        for (let k = 0; k < row.length; k += 3) {
            cells.push({member: member, first: row[k], last: row[k + 1], value: row[k + 2]});
        }
    });
    return cells;
}

function make_panel(index) {
    let col = index % 5, row = Math.floor(index / 5);
    let left = firstLeft + col * panelStep, top = rowTops[row];
    let members = memberCounts[col];

    let x = d3.scaleLinear().domain(yearRange).range([0, panelW]);
    let y = d3.scaleLinear().domain([-0.5, members - 0.5]).range([panelH, 0]);

    let g = svg.append('g').attr('transform', 'translate(' + left + ',' + top + ')');

    g.append('clipPath').attr('id', 'clip-' + index)
        .append('rect').attr('width', panelW).attr('height', panelH);

    let body = g.append('g').attr('clip-path', 'url(#clip-' + index + ')');

    body.selectAll('rect.cell').data(make_cells(runs[index]))
        .enter().append('rect')
        .attr('class', 'cell')
        .attr('x', function (d) { return x(d.first - 0.5); })
        .attr('width', function (d) { return x(d.last + 0.5) - x(d.first - 0.5); })
        .attr('y', function (d) { return y(d.member + 0.5); })
        .attr('height', function (d) { return y(d.member - 0.5) - y(d.member + 0.5); })
        .attr('fill', function (d) { return colorScale(d.value); })
        .attr('shape-rendering', 'crispEdges');

    body.selectAll('line.grid').data(yearTicks)
        .enter().append('line')
        .attr('class', 'grid')
        .attr('x1', x).attr('x2', x)
        .attr('y1', 0).attr('y2', panelH)
        .attr('stroke', '#b0b0b0')
        .attr('stroke-width', lineW);

    if (dots[index]) {
        body.selectAll('circle').data(dots[index])
            .enter().append('circle')
            .attr('cx', function (d) { return x(d); })
            .attr('cy', function (d, i) { return y(i + 0.5); })
            .attr('r', 8)
            .attr('fill', '#ff0000');
    }

    let xAxis = d3.axisBottom(x).tickValues(yearTicks).tickFormat(d3.format('d'))
        .tickSizeInner(tickLen).tickSizeOuter(0).tickPadding(tickLen);
    let yAxis = d3.axisLeft(y).tickValues(memberTicks[col]).tickFormat(d3.format('d'))
        .tickSizeInner(tickLen).tickSizeOuter(0).tickPadding(tickLen);

    let xg = g.append('g').attr('transform', 'translate(0,' + panelH + ')').call(xAxis);
    xg.select('.domain').remove();
    style_axis(xg);
    xg.selectAll('text')
        .attr('transform', 'rotate(-90)')
        .attr('x', -(tickLen * 2 + 4))
        .attr('y', 0)
        .attr('dy', '0.29em')
        .style('text-anchor', 'end');

    let yg = g.append('g').call(yAxis);
    yg.select('.domain').remove();
    style_axis(yg);

    g.append('rect')
        .attr('width', panelW).attr('height', panelH)
        .attr('fill', 'none')
        .attr('stroke', '#000')
        .attr('stroke-width', lineW);

    g.append('text')
        .attr('x', panelW / 2 + titleShift[col])
        .attr('y', -25)
        .attr('text-anchor', 'middle')
        .attr('font-size', 13 * pt)
        .text(modelNames[col]);

    g.append('text')
        .attr('x', -76)
        .attr('y', -73)
        .attr('font-size', 12 * pt)
        .attr('font-weight', 'bold')
        .text(panelLetters[index]);

    if (col === 0) {
        g.append('text')
            .attr('transform', 'translate(' + (-107) + ',' + (panelH / 2) + ') rotate(-90)')
            .attr('text-anchor', 'middle')
            .attr('font-size', 10 * pt)
            .text('member');
    }
}

d3.range(10).forEach(make_panel);

svg.selectAll('text.season').data(seasonTitles)
    .enter().append('text')
    .attr('class', 'season')
    .attr('x', 1780)
    .attr('y', function (d, i) { return [76, 1327][i]; })
    .attr('text-anchor', 'middle')
    .attr('font-size', 15 * pt)
    .text(function (d) { return d; });

function make_colorbar() {
    let left = 3291, w = 73, top = 341, h = 1681;
    let c = d3.scaleLinear().domain([-0.5, 3.5]).range([h, 0]);
    let g = svg.append('g').attr('transform', 'translate(' + left + ',' + top + ')');

    g.selectAll('rect.level').data(durationLevels)
        .enter().append('rect')
        .attr('class', 'level')
        .attr('y', function (d) { return c(d + 0.5); })
        .attr('width', w)
        .attr('height', function (d) { return c(d - 0.5) - c(d + 0.5); })
        .attr('fill', function (d) { return colorScale(d); });

    let axis = d3.axisRight(c).tickValues(colorbarTicks)
        .tickFormat(function (d, i) { return durationLevels[i]; })
        .tickSizeInner(tickLen).tickSizeOuter(0).tickPadding(tickLen);
    let ag = g.append('g').attr('transform', 'translate(' + w + ',0)').call(axis);
    ag.select('.domain').remove();
    style_axis(ag);

    g.append('rect')
        .attr('width', w).attr('height', h)
        .attr('fill', 'none')
        .attr('stroke', '#000')
        .attr('stroke-width', lineW);

    g.append('text')
        .attr('transform', 'translate(' + (w + 121) + ',' + (h / 2 + 1) + ') rotate(-90)')
        .attr('text-anchor', 'middle')
        .attr('font-size', 14 * pt)
        .text('RILEs (Month duration)');
}

make_colorbar();
</script>
</body>
</html>
